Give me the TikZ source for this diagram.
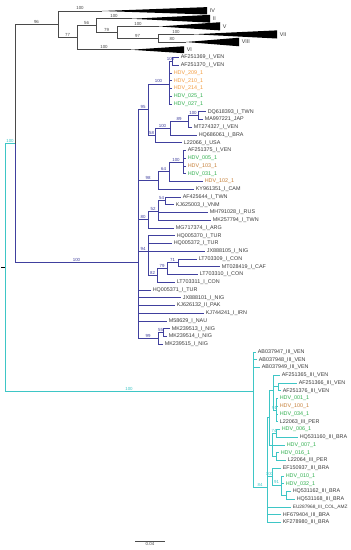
\documentclass[tikz,border=0pt]{standalone}
\usepackage{fontspec}
\setmainfont{Liberation Sans}
\usepackage{tikz}
\usetikzlibrary{positioning}
\definecolor{TreeGray}{HTML}{4A4A4A}
\definecolor{GenoOne}{HTML}{40409E}
\definecolor{GenoThree}{HTML}{3EC6C6}
\definecolor{SeqOrange}{HTML}{F29A3C}
\definecolor{SeqGreen}{HTML}{2EAE4C}
\definecolor{SeqBrown}{HTML}{C47E36}
\definecolor{LeafText}{HTML}{3A3A3A}

\begin{document}
\begin{tikzpicture}[
  x=1pt, y=-7.75pt,
  leaf/.style={anchor=west,inner xsep=1.6pt,inner ysep=0pt,font=\fontsize{5.4}{6}\selectfont,text=LeafText},
  hdvo/.style={leaf,text=SeqOrange},
  hdvg/.style={leaf,text=SeqGreen},
  hdvb/.style={leaf,text=SeqBrown},
  boot/.style={pos=0.75,above,inner sep=0.6pt,font=\fontsize{4.4}{5}\selectfont},
  gTop/.style={TreeGray,line width=0.8pt},
  gOne/.style={GenoOne,line width=0.8pt},
  gThree/.style={GenoThree,line width=0.9pt},
  wedge/.style={fill=black}
]
\useasboundingbox (0,-1.4194) rectangle (350,69.548);

\coordinate (cIV) at (102,0);
\coordinate (cII) at (132,1);
\coordinate (cV) at (159,2);
\coordinate (cVII) at (194,3);
\coordinate (cVIII) at (186,4);
\coordinate (cVI) at (131,5);
\fill[wedge] (cIV) -- (207,-0.5) -- (207,0.45) -- cycle;
\fill[wedge] (cII) -- (210,0.5) -- (210,1.5) -- cycle;
\fill[wedge] (cV) -- (220,1.45) -- (220,2.5) -- cycle;
\fill[wedge] (cVII) -- (277,2.5) -- (277,3.55) -- cycle;
\fill[wedge] (cVIII) -- (239,3.45) -- (239,4.55) -- cycle;
\fill[wedge] (cVI) -- (184,4.55) -- (184,5.45) -- cycle;
\node[leaf] (lIV) at (208,0) {IV};
\node[leaf] (lII) at (211,1) {II};
\node[leaf] (lV) at (221,2) {V};
\node[leaf] (lVII) at (278,3) {VII};
\node[leaf] (lVIII) at (240,4) {VIII};
\node[leaf] (lVI) at (185,5) {VI};

\node[leaf] (af69) at (179,6) {AF251369\_I\_VEN};
\node[leaf] (af70) at (179,7) {AF251370\_I\_VEN};
\node[hdvo] (h209) at (172,8) {HDV\_209\_1};
\node[hdvo] (h210) at (172,9) {HDV\_210\_1};
\node[hdvo] (h214) at (172,10) {HDV\_214\_1};
\node[hdvg] (h025) at (172,11) {HDV\_025\_1};
\node[hdvg] (h027) at (172,12) {HDV\_027\_1};
\node[leaf] (dq93) at (206,13) {DQ618393\_I\_TWN};
\node[leaf] (ma21) at (203,14) {MA997221\_JAP};
\node[leaf] (mt27) at (192,15) {MT274327\_I\_VEN};
\node[leaf] (hq61) at (197,16) {HQ686061\_I\_BRA};
\node[leaf] (l066) at (182,17) {L22066\_I\_USA};
\node[leaf] (af75) at (186,18) {AF251375\_I\_VEN};
\node[hdvg] (h005) at (186,19) {HDV\_005\_1};
\node[hdvb] (h103) at (186,20) {HDV\_103\_1};
\node[hdvg] (h031) at (186,21) {HDV\_031\_1};
\node[hdvb] (h102) at (203,22) {HDV\_102\_1};
\node[leaf] (ky51) at (194,23) {KY961351\_I\_CAM};
\node[leaf] (af44) at (181,24) {AF425644\_I\_TWN};
\node[leaf] (kj03) at (174,25) {KJ625003\_I\_VNM};
\node[leaf] (mh28) at (208,26) {MH791028\_I\_RUS};
\node[leaf] (mk94) at (211,27) {MK257794\_I\_TWN};
\node[leaf] (mg74) at (174,28) {MG717374\_I\_ARG};
\node[leaf] (hq70) at (175,29) {HQ005370\_I\_TUR};
\node[leaf] (hq72) at (172,30) {HQ005372\_I\_TUR};
\node[leaf] (jx05) at (205,31) {JX888105\_I\_NIG};
\node[leaf] (lt09) at (197,32) {LT703309\_I\_CON};
\node[leaf] (mt19) at (220,33) {MT028419\_I\_CAF};
\node[leaf] (lt10) at (198,34) {LT703310\_I\_CON};
\node[leaf] (lt11) at (175,35) {LT703311\_I\_CON};
\node[leaf] (hq71) at (151,36) {HQ005371\_I\_TUR};
\node[leaf] (jx01) at (181,37) {JX888101\_I\_NIG};
\node[leaf] (kj32) at (175,38) {KJ626132\_II\_PAK};
\node[leaf] (kj41) at (204,39) {KJ744241\_I\_IRN};
\node[leaf] (m629) at (167,40) {M58629\_I\_NAU};
\node[leaf] (mk13) at (170,41) {MK239513\_I\_NIG};
\node[leaf] (mk14) at (167,42) {MK239514\_I\_NIG};
\node[leaf] (mk15) at (163,43) {MK239515\_I\_NIG};

\node[leaf] (ab47) at (256,44) {AB037947\_III\_VEN};
\node[leaf] (ab48) at (257,45) {AB037948\_III\_VEN};
\node[leaf] (ab49) at (260,46) {AB037949\_III\_VEN};
\node[leaf] (af65) at (280,47) {AF251365\_III\_VEN};
\node[leaf] (af66) at (297,48) {AF251366\_III\_VEN};
\node[leaf] (af76) at (281,49) {AF251376\_III\_VEN};
\node[hdvg] (h001) at (278,50) {HDV\_001\_1};
\node[hdvb] (h100) at (278,51) {HDV\_100\_1};
\node[hdvg] (h034) at (278,52) {HDV\_034\_1};
\node[leaf] (l063) at (278,53) {L22063\_III\_PER};
\node[hdvg] (h006) at (280,54) {HDV\_006\_1};
\node[leaf] (hq60) at (298,55) {HQ531160\_III\_BRA};
\node[hdvg] (h007) at (285,56) {HDV\_007\_1};
\node[hdvg] (h016) at (279,57) {HDV\_016\_1};
\node[leaf] (l064) at (286,58) {L22064\_III\_PER};
\node[leaf] (ef37) at (281,59) {EF150937\_III\_BRA};
\node[hdvg] (h010) at (284,60) {HDV\_010\_1};
\node[hdvg] (h032) at (284,61) {HDV\_032\_1};
\node[leaf] (hq62) at (291,62) {HQ531162\_III\_BRA};
\node[leaf] (hq68) at (295,63) {HQ531168\_III\_BRA};
\node[leaf,font=\fontsize{4.8}{6}\selectfont] (eu68) at (291,64) {EU287968\_III\_COL\_AMZ};
\node[leaf] (hf04) at (281,65) {HF679404\_III\_BRA};
\node[leaf] (kf80) at (281,66) {KF278980\_III\_BRA};

\coordinate (c97) at (158,3.5);
\coordinate (c79t) at (117,2.75);
\coordinate (c56) at (96,1.875);
\coordinate (c77) at (77,3.4375);
\coordinate (gtop) at (58,1.719);
\coordinate (gupper) at (15,17.1);

\coordinate (aven) at (172,6.5);
\coordinate (ven) at (169,9.417);
\coordinate (twn) at (198,13.5);
\coordinate (c89) at (188,14.25);
\coordinate (c100) at (170,15.125);
\coordinate (c58) at (155,16.063);
\coordinate (c95) at (148,12.74);
\coordinate (cam) at (183,19.5);
\coordinate (c64) at (169,20.75);
\coordinate (c98) at (158,21.875);
\coordinate (c54) at (165,24.5);
\coordinate (c52) at (158,25.833);
\coordinate (c80) at (148,26.917);
\coordinate (c71) at (178,32.5);
\coordinate (c79) at (167,33.25);
\coordinate (c82) at (157,34.125);
\coordinate (c94) at (148,31.031);
\coordinate (c55) at (163,41.5);
\coordinate (c99) at (158,42.25);
\coordinate (gone) at (138,32.48);

\coordinate (ven3) at (278,48.5);
\coordinate (vend) at (273,49);
\coordinate (c91a) at (276,51.5);
\coordinate (c74) at (276,54.5);
\coordinate (per) at (276,57.5);
\coordinate (cg) at (272,56);
\coordinate (cf) at (269,52.5);
\coordinate (bra) at (286,62.5);
\coordinate (c91b) at (281,61.17);
\coordinate (c100e) at (272,60.08);
\coordinate (c84) at (267,61.52);
\coordinate (gthree) at (253,49.13);
\coordinate (root) at (5,33.11);
\coordinate (rtick) at (1,33.11);

\draw[gTop] (c97) |- node[boot]{100} (cVII) (c97) |- node[boot]{80} (cVIII);
\draw[gTop] (c79t) |- node[boot]{100} (cV) (c79t) |- node[boot]{97} (c97);
\draw[gTop] (c56) |- node[boot]{100} (cII) (c56) |- node[boot]{79} (c79t);
\draw[gTop] (c77) |- node[boot]{56} (c56) (c77) |- node[boot]{100} (cVI);
\draw[gTop] (gtop) |- node[boot]{100} (cIV) (gtop) |- node[boot]{77} (c77);
\draw[gTop] (gupper) |- node[boot]{96} (gtop);

\draw[gOne] (aven) |- (af69.west) (aven) |- (af70.west);
\draw[gOne] (ven) |- node[boot]{100} (aven) (ven) |- (h209.west) (ven) |- (h210.west)
  (ven) |- (h214.west) (ven) |- (h025.west) (ven) |- (h027.west);
\draw[gOne] (twn) |- (dq93.west) (twn) |- (ma21.west);
\draw[gOne] (c89) |- node[boot]{100} (twn) (c89) |- (mt27.west);
\draw[gOne] (c100) |- node[boot]{89} (c89) (c100) |- (hq61.west);
\draw[gOne] (c58) |- node[boot]{100} (c100) (c58) |- (l066.west);
\draw[gOne] (c95) |- node[boot]{100} (ven) (c95) |- node[boot]{58} (c58);
\draw[gOne] (cam) |- (af75.west) (cam) |- (h005.west) (cam) |- (h103.west) (cam) |- (h031.west);
\draw[gOne] (c64) |- node[boot]{100} (cam) (c64) |- (h102.west);
\draw[gOne] (c98) |- node[boot]{64} (c64) (c98) |- (ky51.west);
\draw[gOne] (c54) |- (af44.west) (c54) |- (kj03.west);
\draw[gOne] (c52) |- node[boot]{54} (c54) (c52) |- (mh28.west) (c52) |- (mk94.west);
\draw[gOne] (c80) |- node[boot]{52} (c52) (c80) |- (mg74.west);
\draw[gOne] (c71) |- (lt09.west) (c71) |- (mt19.west);
\draw[gOne] (c79) |- node[boot]{71} (c71) (c79) |- (lt10.west);
\draw[gOne] (c82) |- node[boot]{79} (c79) (c82) |- (lt11.west);
\draw[gOne] (c94) |- (hq70.west) (c94) |- (hq72.west) (c94) |- (jx05.west) (c94) |- node[boot]{82} (c82);
\draw[gOne] (c55) |- (mk13.west) (c55) |- (mk14.west);
\draw[gOne] (c99) |- node[boot]{55} (c55) (c99) |- (mk15.west);
\draw[gOne] (gone) |- node[boot]{95} (c95) (gone) |- node[boot]{98} (c98) (gone) |- node[boot]{80} (c80)
  (gone) |- node[boot]{94} (c94) (gone) |- (hq71.west) (gone) |- (jx01.west) (gone) |- (kj32.west)
  (gone) |- (kj41.west) (gone) |- (m629.west) (gone) |- node[boot]{99} (c99);
\draw[gOne] (gupper) |- node[boot]{100} (gone);

\draw[gThree] (ven3) |- (af66.west) (ven3) |- (af76.west);
\draw[gThree] (c91a) |- (h001.west) (c91a) |- (h100.west) (c91a) |- (h034.west) (c91a) |- (l063.west);
\draw[gThree] (vend) |- (af65.west) (vend) |- (ven3) (vend) |- node[boot]{91} (c91a);
\draw[gThree] (c74) |- (h006.west) (c74) |- (hq60.west);
\draw[gThree] (per) |- (h016.west) (per) |- (l064.west);
\draw[gThree] (cg) |- node[boot]{74} (c74) (cg) |- (h007.west) (cg) |- (per);
\draw[gThree] (cf) |- (vend) (cf) |- (cg);
\draw[gThree] (bra) |- (hq62.west) (bra) |- (hq68.west);
\draw[gThree] (c91b) |- (h010.west) (c91b) |- (h032.west) (c91b) |- (bra);
\draw[gThree] (c100e) |- (ef37.west) (c100e) |- node[boot]{91} (c91b);
\draw[gThree] (c84) |- (cf) (c84) |- node[boot]{100} (c100e) (c84) |- (eu68.west)
  (c84) |- (hf04.west) (c84) |- (kf80.west);
\draw[gThree] (gthree) |- (ab47.west) (gthree) |- (ab48.west) (gthree) |- (ab49.west)
  (gthree) |- node[boot]{84} (c84);
\draw[gThree] (root) |- node[boot]{100} (gupper) (root) |- node[boot]{100} (gthree);
\draw[black,line width=0.6pt] (rtick) -- (root);

\coordinate (sbl) at (135,68.39);
\coordinate (sbr) at (165,68.39);
\draw[TreeGray,line width=0.6pt] (sbl) -- node[below,inner sep=1pt,font=\fontsize{4.4}{5}\selectfont] (sbtext) {0.04} (sbr);
\end{tikzpicture}
\end{document}
